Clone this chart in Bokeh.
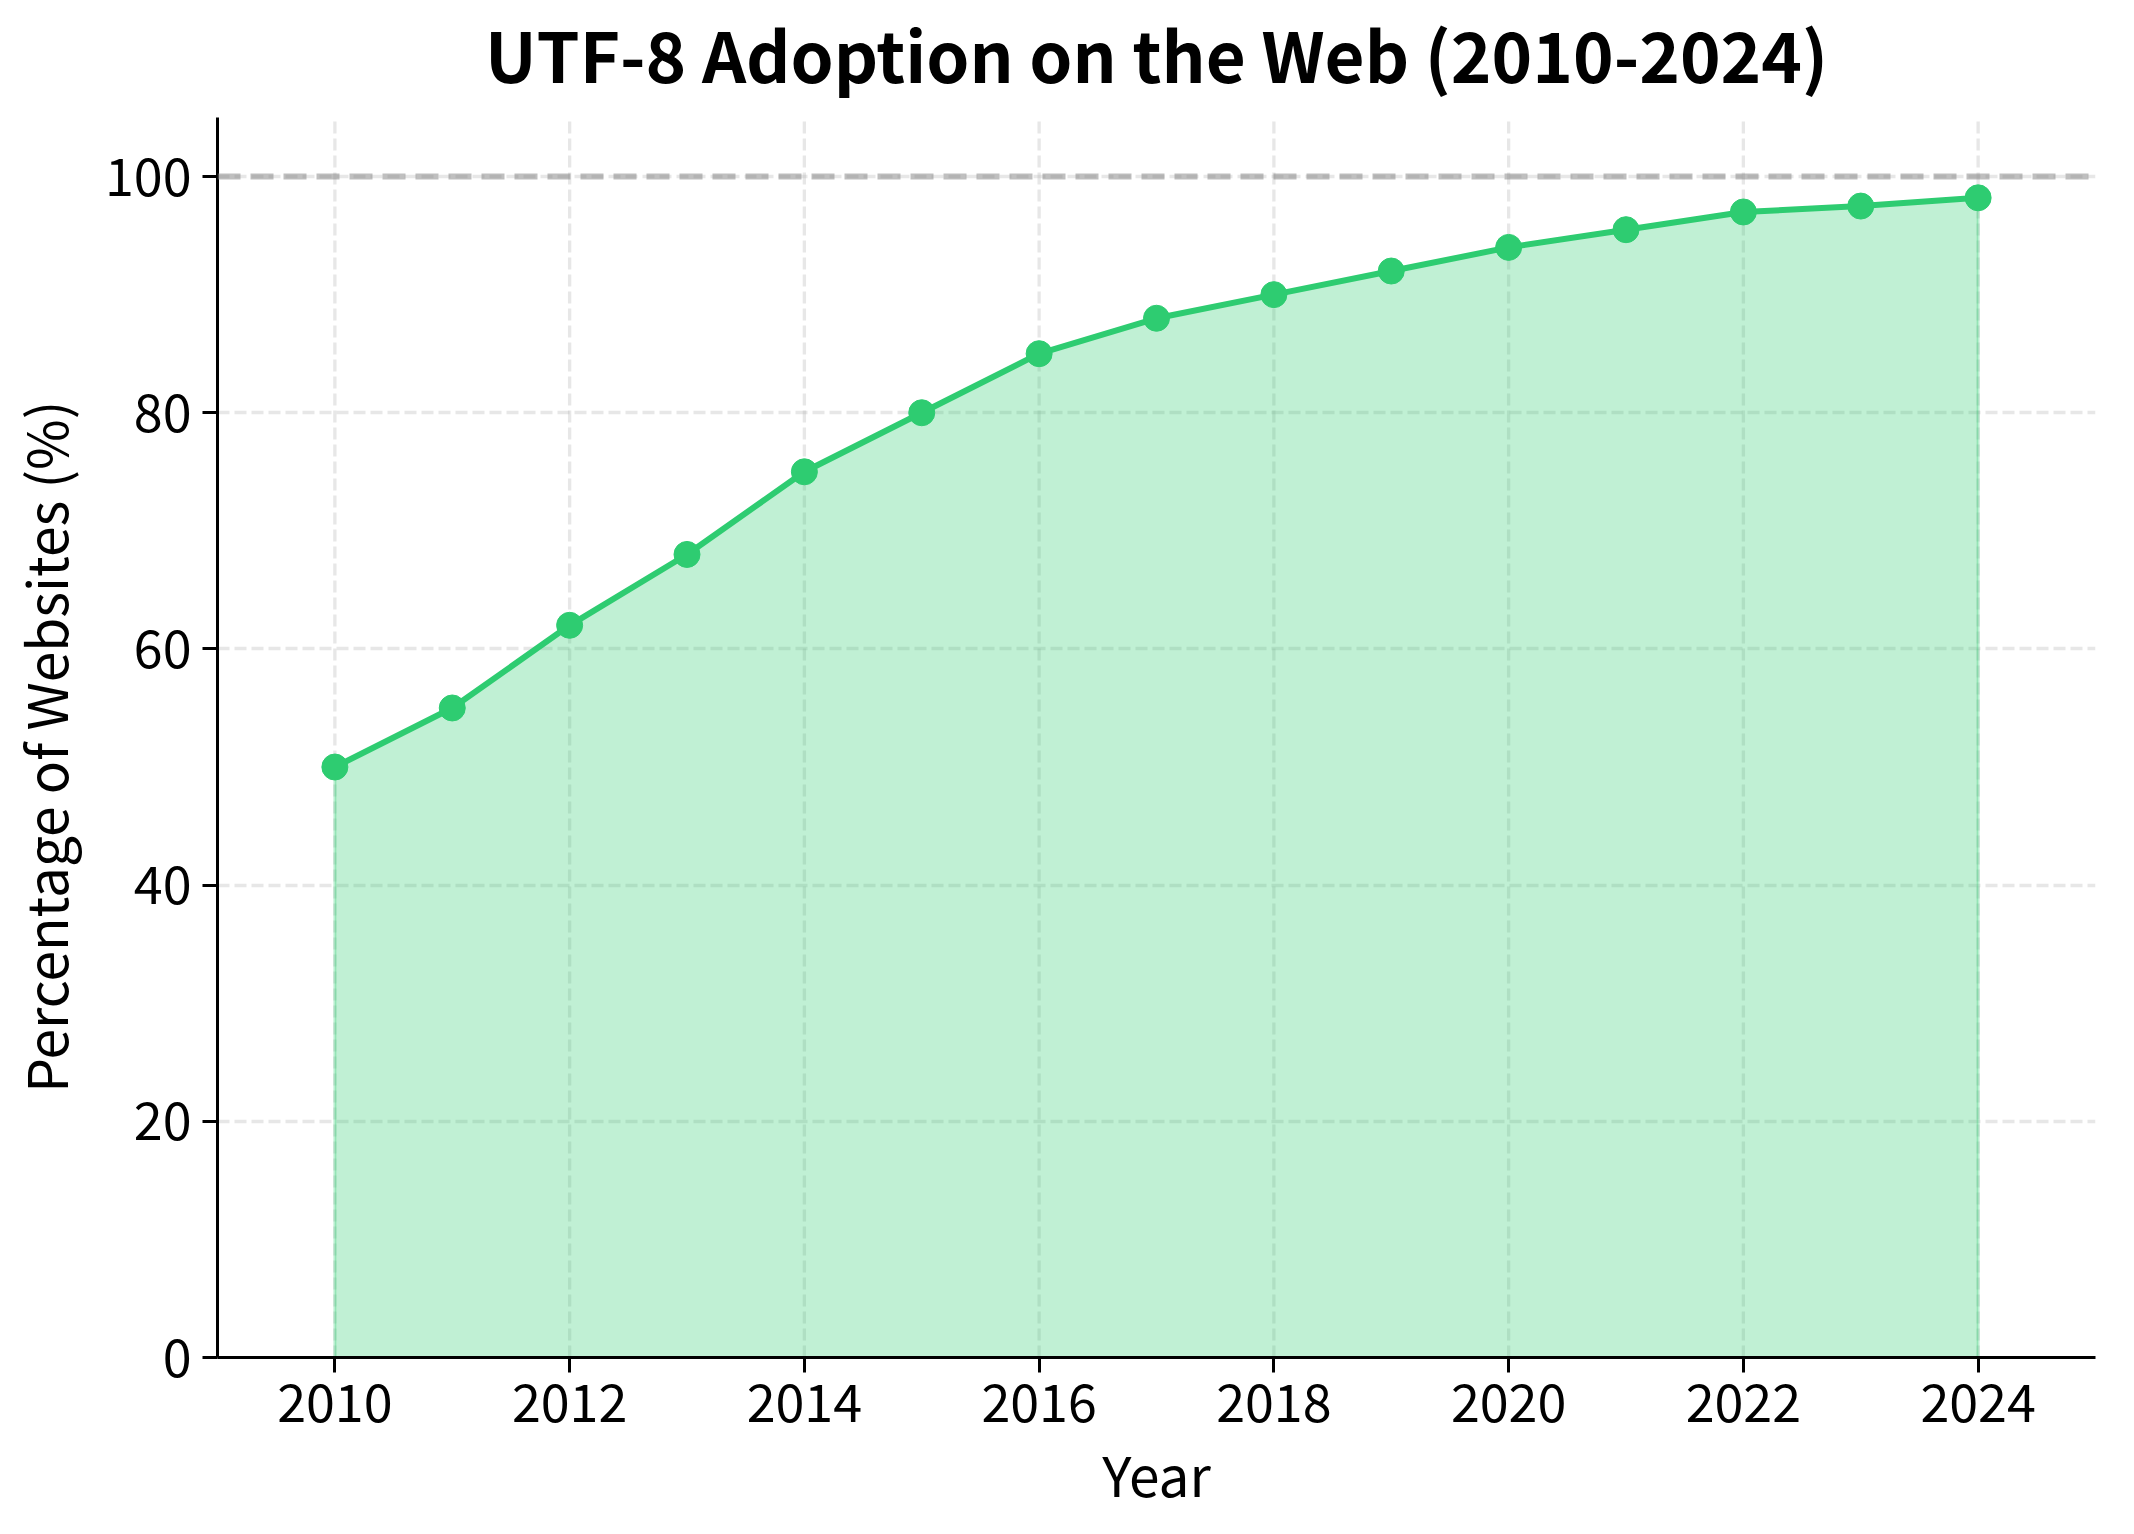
from bokeh.plotting import figure
from bokeh.embed import file_html
from bokeh.resources import INLINE
from bokeh.models import Span, FixedTicker, ColumnDataSource, Range1d
from bokeh.core.properties import value

years = [2010, 2011, 2012, 2013, 2014, 2015, 2016, 2017, 2018, 2019, 2020, 2021, 2022, 2023, 2024]
utf8_share = [50, 55, 62, 68, 75, 80, 85, 88, 90, 92, 94, 95.5, 97, 97.5, 98.2]
x_ticks = [2010, 2012, 2014, 2016, 2018, 2020, 2022, 2024]
y_ticks = [0, 20, 40, 60, 80, 100]
title_text = "UTF-8 Adoption on the Web (2010-2024)"
x_label = "Year"
y_label = "Percentage of Websites (%)"

GREEN = "#2ecc71"
FONT = "Noto Sans CJK JP"
X_MIN, X_MAX = 2009, 2025
Y_MIN, Y_MAX = 0, 105

W, H = 2118, 1518
BORDER_L, BORDER_R, BORDER_B = 209, 23, 161
AXES_TOP = 117              # px from top of canvas to top of the axes box
PLOT_H = H - BORDER_B - AXES_TOP
ppu = PLOT_H / (Y_MAX - Y_MIN)        # px per y unit
Y_TOP = Y_MAX + AXES_TOP / ppu        # frame reaches the canvas top (room for the title)

src = ColumnDataSource(dict(x=years, y=utf8_share))
area_x = years + years[::-1]
area_y = utf8_share + [0] * len(years)

p = figure(width=W, height=H, x_range=Range1d(X_MIN, X_MAX), y_range=Range1d(Y_MIN, Y_TOP),
           output_backend="svg", toolbar_location=None,
           min_border_left=BORDER_L, min_border_right=BORDER_R,
           min_border_top=0, min_border_bottom=BORDER_B)

p.outline_line_color = None
p.background_fill_color = "white"
p.border_fill_color = "white"

grid_style = dict(line_color="#b0b0b0", line_alpha=0.3, line_width=3.3, line_dash="12 5")
p.ygrid.grid_line_color = grid_style["line_color"]
p.ygrid.grid_line_alpha = grid_style["line_alpha"]
p.ygrid.grid_line_width = grid_style["line_width"]
p.ygrid.grid_line_dash = grid_style["line_dash"]
p.xgrid.visible = False
# vertical grid lines limited to the axes box
p.segment(x0=x_ticks, y0=[Y_MIN] * len(x_ticks), x1=x_ticks, y1=[Y_MAX] * len(x_ticks),
          level="underlay", **grid_style)

p.xaxis.ticker = FixedTicker(ticks=x_ticks)
p.yaxis.ticker = FixedTicker(ticks=y_ticks)
p.yaxis.bounds = (Y_MIN, Y_MAX)

for ax in (p.xaxis[0], p.yaxis[0]):
    ax.axis_line_color = "black"
    ax.axis_line_width = 3
    ax.major_tick_line_color = "black"
    ax.major_tick_line_width = 3
    ax.major_tick_out = 15
    ax.major_tick_in = 0
    ax.minor_tick_line_color = None
    ax.major_label_text_font = FONT
    ax.major_label_text_font_size = "52px"
    ax.major_label_text_color = "black"
    ax.axis_label_text_font = FONT
    ax.axis_label_text_font_size = "55px"
    ax.axis_label_text_font_style = "normal"
    ax.axis_label_text_color = "black"
    ax.major_label_standoff = 11

p.xaxis.axis_label = x_label
# the frame runs up to the canvas top, so pad the label's end with no-break spaces
# to centre the visible words on the axes box (0..105) instead of the whole frame
p.yaxis.axis_label = y_label + "\u00a0" * 11
p.xaxis.axis_label_standoff = 8
p.yaxis.axis_label_standoff = 18

p.patch(x=area_x, y=area_y, fill_color=GREEN, fill_alpha=0.3,
        line_color=GREEN, line_alpha=0.3, line_width=3)
p.line(x="x", y="y", source=src, line_color=GREEN, line_width=6)
p.scatter(x="x", y="y", source=src, size=26, fill_color=GREEN, line_color=GREEN)

p.add_layout(Span(location=100, dimension="width", line_color="gray", line_alpha=0.5,
                  line_width=6, line_dash="23 10"))

# title above the axes box, centred on it; its top 2 px below the canvas top
p.text(x=[(X_MIN + X_MAX) / 2], y=[Y_TOP - 2 / ppu], text=[title_text],
       text_font=value(FONT), text_font_size="69px", text_font_style="bold",
       text_color="black", text_align="center", text_baseline="top")

open("out.html", "w").write(file_html(p, INLINE))
